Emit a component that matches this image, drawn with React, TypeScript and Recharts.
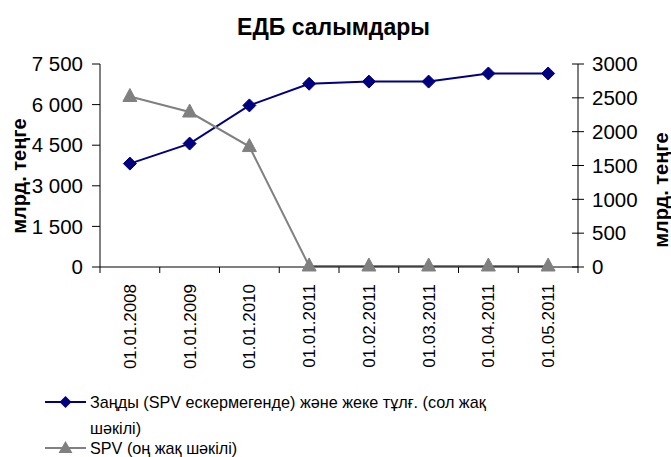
import { LineChart, Line, XAxis, YAxis } from "recharts";

const categories = [
  "01.01.2008",
  "01.01.2009",
  "01.01.2010",
  "01.01.2011",
  "01.02.2011",
  "01.03.2011",
  "01.04.2011",
  "01.05.2011",
];
const legalAndPersons = [3820, 4560, 5970, 6770, 6850, 6850, 7150, 7150];
const spvValues = [2520, 2290, 1780, 15, 15, 15, 15, 15];

const leftTicks = [0, 1500, 3000, 4500, 6000, 7500];
const rightTicks = [0, 500, 1000, 1500, 2000, 2500, 3000];

const title = "ЕДБ салымдары";
const axisTitle = "млрд. теңге";
const legendNames = [
  "Заңды (SPV ескермегенде) және жеке тұлғ. (сол жақ шәкілі)",
  "SPV (оң жақ шәкілі)",
];

// each category sits in the middle of its slot, tick marks go on the slot edges
const data = categories.map((c, i) => ({
  pos: i + 0.5,
  date: c,
  legal: legalAndPersons[i],
  spv: spvValues[i],
}));
const xTicks: number[] = [];
for (let i = 0; i <= categories.length; i++) {
  xTicks.push(i);
  if (i < categories.length) xTicks.push(i + 0.5);
}

const FONT = "Liberation Sans";
const NAVY = "#000080";
const GRAY = "#808080";

const fmt = (v: number) => String(v).replace(/\B(?=(\d{3})+(?!\d))/g, " ");

const Diamond = (props: any) => {
  const { cx, cy } = props;
  if (cx == null || cy == null) return null;
  const s = 6.5;
  return (
    <polygon
      points={`${cx},${cy - s} ${cx + s},${cy} ${cx},${cy + s} ${cx - s},${cy}`}
      fill={NAVY}
      stroke={NAVY}
    />
  );
};

const Triangle = (props: any) => {
  const { cx, cy } = props;
  if (cx == null || cy == null) return null;
  return (
    <polygon
      points={`${cx},${cy - 8} ${cx + 7},${cy + 5} ${cx - 7},${cy + 5}`}
      fill={GRAY}
      stroke={GRAY}
    />
  );
};

const XTick = (props: any) => {
  const { x, y, payload } = props;
  const v = payload.value as number;
  if (Number.isInteger(v)) {
    return <line x1={x} x2={x} y1={y} y2={y + 6} stroke="#000" />;
  }
  const ty = y + 17;
  return (
    <text
      x={x}
      y={ty}
      dy="0.35em"
      transform={`rotate(-90, ${x}, ${ty})`}
      textAnchor="end"
      fontFamily={FONT}
      fontSize={17}
      fill="#000"
    >
      {categories[Math.floor(v)]}
    </text>
  );
};

const RightTick = (props: any) => {
  const { x, y, payload } = props;
  return (
    <g>
      <line x1={x - 6} x2={x + 6} y1={y} y2={y} stroke="#000" />
      <text x={x + 14} y={y} dy="0.35em" textAnchor="start" fontFamily={FONT} fontSize={20.5} fill="#000">
        {payload.value}
      </text>
    </g>
  );
};

const AxisTitle = (cx: number, cy: number) => () => (
  <text
    x={cx}
    y={cy}
    transform={`rotate(-90, ${cx}, ${cy})`}
    textAnchor="middle"
    dominantBaseline="central"
    fontFamily={FONT}
    fontWeight="bold"
    fontSize={20}
    fill="#000"
  >
    {axisTitle}
  </text>
);

const LegendIcon = ({ color, shape }: { color: string; shape: "diamond" | "triangle" }) => (
  <svg width={41} height={20} style={{ display: "block" }}>
    <line x1={0} x2={41} y1={10} y2={10} stroke={color} strokeWidth={2} />
    {shape === "diamond" ? (
      <polygon points="20.5,4 26.5,10 20.5,16 14.5,10" fill={color} />
    ) : (
      <polygon points="20.5,3 27.5,15 13.5,15" fill={color} />
    )}
  </svg>
);

export default function App() {
  return (
    <div style={{ position: "absolute", left: 0, top: 0, width: 671, height: 457, background: "#fff", overflow: "hidden" }}>
      <div
        style={{
          position: "absolute",
          left: 0,
          top: 16,
          width: 667,
          textAlign: "center",
          fontFamily: FONT,
          fontWeight: "bold",
          fontSize: 23,
          lineHeight: "23px",
        }}
      >
        {title}
      </div>
      <LineChart width={671} height={457} data={data} margin={{ top: 64, right: 0, bottom: 0, left: 0 }}>
        <XAxis
          dataKey="pos"
          type="number"
          domain={[0, categories.length]}
          ticks={xTicks}
          interval={0}
          height={190}
          tickSize={0}
          tickMargin={0}
          tickLine={false}
          axisLine={{ stroke: "#000" }}
          tick={<XTick />}
        />
        <YAxis
          yAxisId="left"
          width={100}
          domain={[0, 7500]}
          ticks={leftTicks}
          tickFormatter={fmt}
          tickSize={8}
          tickMargin={9}
          axisLine={{ stroke: "#000" }}
          tickLine={{ stroke: "#000" }}
          tick={{ fill: "#000", fontSize: 20.5, fontFamily: FONT }}
          label={{ content: AxisTitle(19, 176) }}
        />
        <YAxis
          yAxisId="right"
          orientation="right"
          width={93}
          domain={[0, 3000]}
          ticks={rightTicks}
          tickSize={0}
          tickMargin={0}
          tickLine={false}
          axisLine={{ stroke: "#000" }}
          tick={<RightTick />}
          label={{ content: AxisTitle(661, 190) }}
        />
        <Line
          yAxisId="left"
          dataKey="legal"
          stroke={NAVY}
          strokeWidth={2}
          dot={<Diamond />}
          activeDot={false}
          isAnimationActive={false}
        />
        <Line
          yAxisId="right"
          dataKey="spv"
          stroke={GRAY}
          strokeWidth={2}
          dot={<Triangle />}
          activeDot={false}
          isAnimationActive={false}
        />
      </LineChart>
      <div
        style={{
          position: "absolute",
          left: 45,
          top: 389,
          fontFamily: FONT,
          fontSize: 16.2,
          lineHeight: "26px",
          color: "#000",
        }}
      >
        <div style={{ display: "flex", alignItems: "flex-start" }}>
          <div style={{ paddingTop: 3 }}>
            <LegendIcon color={NAVY} shape="diamond" />
          </div>
          <div style={{ width: 405, marginLeft: 4 }}>{legendNames[0]}</div>
        </div>
        <div style={{ display: "flex", alignItems: "flex-start", marginTop: -6 }}>
          <div style={{ paddingTop: 3 }}>
            <LegendIcon color={GRAY} shape="triangle" />
          </div>
          <div style={{ marginLeft: 4 }}>{legendNames[1]}</div>
        </div>
      </div>
    </div>
  );
}
